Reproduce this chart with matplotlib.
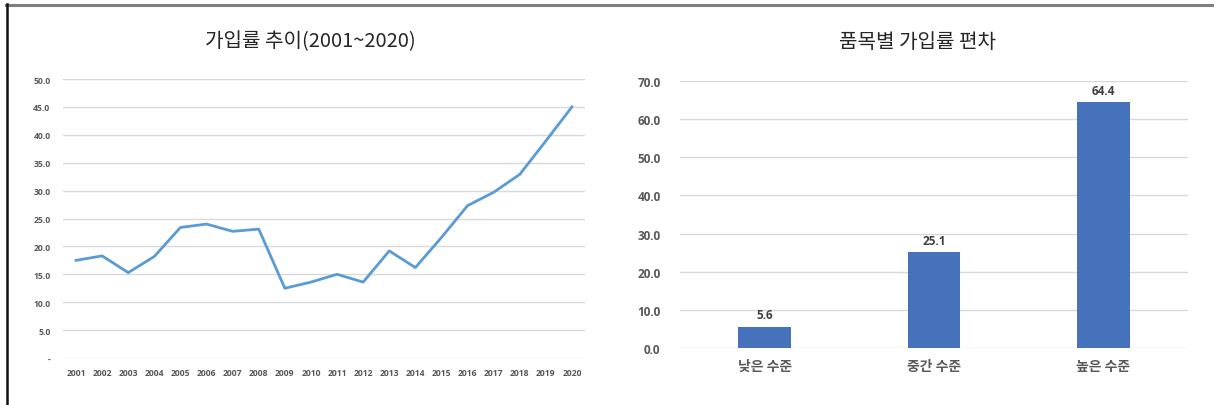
import matplotlib
matplotlib.use("Agg")
import matplotlib.pyplot as plt
from matplotlib.lines import Line2D

plt.rcParams['font.family'] = ['Noto Sans CJK KR', 'DejaVu Sans']

# Subscription rate trend by year
years = [str(y) for y in range(2001, 2021)]
rates = [17.5, 18.3, 15.3, 18.2, 23.4, 24.0, 22.7, 23.1, 12.5, 13.6,
         15.0, 13.6, 19.2, 16.2, 21.6, 27.3, 29.7, 32.9, 38.9, 45.0]

# Subscription rate deviation by item group
levels = ['낮은 수준', '중간 수준', '높은 수준']
level_rates = [5.6, 25.1, 64.4]

W, H = 1214, 406
fig = plt.figure(figsize=(W / 100, H / 100), dpi=100)

grid_c = '#d9d9d9'
tick_c = '#595959'
num_font = ['Open Sans', 'DejaVu Sans']

# ---- line chart ----
ax1 = fig.add_axes([63 / W, 1 - 359 / H, 522 / W, 279 / H])
x = range(len(years))
ax1.plot(x, rates, color='#5b9bd5', lw=2.0, solid_joinstyle='round')
ax1.set_xlim(-0.5, len(years) - 0.5)
ax1.set_ylim(0, 50)
yt = [i * 5 for i in range(11)]
ax1.set_yticks(yt)
ax1.set_yticklabels(['-'] + [f'{v:.1f}' for v in yt[1:]])
ax1.set_xticks(list(x))
ax1.set_xticklabels(years)
for lab in ax1.get_xticklabels() + ax1.get_yticklabels():
    lab.set_fontfamily(num_font)
    lab.set_fontweight('bold')
    lab.set_fontsize(6.2)
    lab.set_color(tick_c)
ax1.tick_params(length=0)
ax1.tick_params(axis='y', pad=9)
ax1.tick_params(axis='x', pad=7)
ax1.grid(axis='y', color=grid_c, lw=1)
ax1.set_axisbelow(True)
for s in ax1.spines.values():
    s.set_visible(False)

fig.text(310 / W, 1 - 42 / H, '가입률 추이(2001~2020)', ha='center', va='center',
         fontsize=14.5, color='#262626')

# ---- bar chart ----
ax2 = fig.add_axes([680 / W, 1 - 349 / H, 508 / W, 267 / H])
bx = range(len(levels))
bars = ax2.bar(bx, level_rates, width=0.31, color='#4671bb', zorder=3)
ax2.set_xlim(-0.5, len(levels) - 0.5)
ax2.set_ylim(0, 70)
yt2 = [i * 10 for i in range(8)]
ax2.set_yticks(yt2)
ax2.set_yticklabels([f'{v:.1f}' for v in yt2])
ax2.set_xticks(list(bx))
ax2.set_xticklabels(levels)
for lab in ax2.get_yticklabels():
    lab.set_fontfamily(num_font)
    lab.set_fontweight('bold')
    lab.set_fontsize(8.5)
    lab.set_color(tick_c)
for lab in ax2.get_xticklabels():
    lab.set_fontsize(10)
    lab.set_fontweight('bold')
    lab.set_color(tick_c)
ax2.tick_params(length=0)
ax2.tick_params(axis='y', pad=14)
ax2.tick_params(axis='x', pad=8)
ax2.grid(axis='y', color=grid_c, lw=1, zorder=0)
for s in ax2.spines.values():
    s.set_visible(False)
for b, v in zip(bars, level_rates):
    ax2.annotate(f'{v:.1f}', (b.get_x() + b.get_width() / 2, v),
                 xytext=(0, 4), textcoords='offset points', ha='center', va='bottom',
                 fontsize=8.5, fontweight='bold', color='#404040', family=num_font)

fig.text(918 / W, 1 - 42 / H, '품목별 가입률 편차', ha='center', va='center',
         fontsize=14.5, color='#262626')

# frame edges
fig.add_artist(Line2D([6 / W, 1], [1 - 5.5 / H, 1 - 5.5 / H], color='#7f7f7f', lw=2.2))
fig.add_artist(Line2D([6.8 / W, 6.8 / W], [0, 1 - 5 / H], color='#111111', lw=1.8))

fig.savefig('out.png', dpi=100, facecolor='white')
